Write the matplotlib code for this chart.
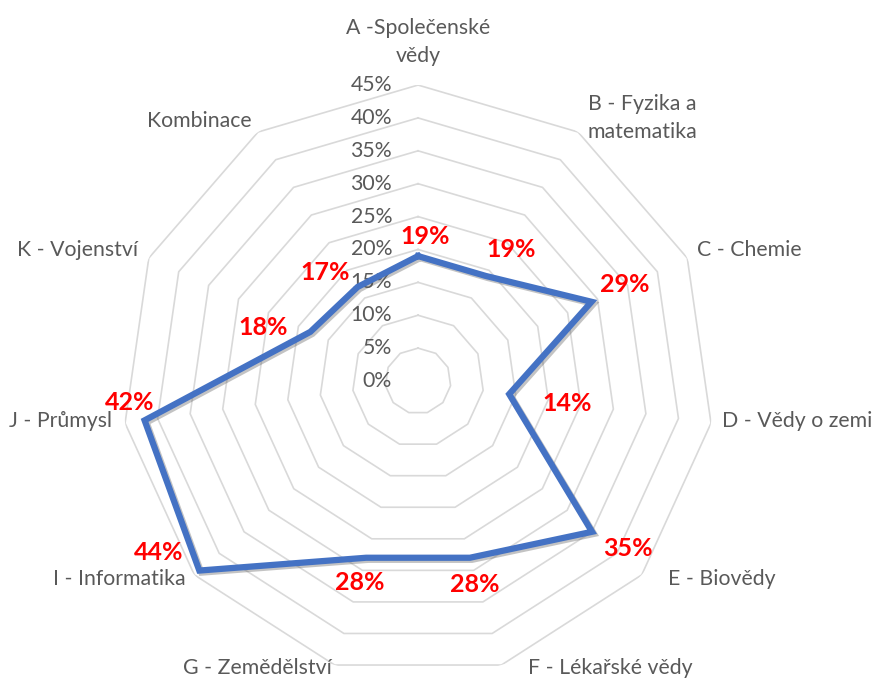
import numpy as np
import matplotlib.pyplot as plt
import matplotlib.patheffects as pe

plt.rcParams['font.family'] = ['Lato', 'DejaVu Sans']

categories = ['A -Společenské\nvědy', 'B - Fyzika a\nmatematika', 'C - Chemie',
              'D - Vědy o zemi', 'E - Biovědy', 'F - Lékařské vědy',
              'G - Zemědělství', 'I - Informatika', 'J - Průmysl',
              'K - Vojenství', 'Kombinace']
values = [19, 19, 29, 14, 35, 28, 28, 44, 42, 18, 17]
ticks = [0, 5, 10, 15, 20, 25, 30, 35, 40, 45]

# label placement (pixel offsets from outer ring vertex / data point)
cat_offsets = [(0, 43, 'center'), (64, 14, 'center'), (10, 8, 'left'),
               (11, 2, 'left'), (26, -4, 'left'), (27, -3, 'left'),
               (-3, -3, 'right'), (-9, -4, 'right'), (-13, 2, 'right'),
               (-11, 8, 'right'), (-6, 11, 'right')]
val_offsets = [(7, 20), (26, 26), (33, 17), (58, -9), (36, -17), (5, -27),
               (-6, -25), (-41, 18), (-15, 18), (-47, 4), (-32, 14)]

n = len(categories)
theta = np.arange(n) * 2 * np.pi / n

fig = plt.figure(figsize=(8.72, 6.82), dpi=100)
ax = fig.add_axes([0.1399, 0.0073, 0.679, 0.868], projection='polar')
ax.set_theta_offset(np.pi / 2)
ax.set_theta_direction(-1)
ax.set_ylim(0, 45)
ax.grid(False)
ax.spines['polar'].set_visible(False)
ax.set_xticks([])
ax.set_yticks([])
ax.patch.set_alpha(0)

# polygon gridlines
ring_t = np.append(theta, theta[0])
for t in ticks[1:]:
    ax.plot(ring_t, [t] * (n + 1), color='#D9D9D9', lw=1.2, zorder=1)

# radial tick labels
for t in ticks:
    ax.annotate(f'{t}%', xy=(0, t), xytext=(-26, 0), textcoords='offset pixels',
                ha='right', va='center', fontsize=15.3, color='#595959')

# data line
vals = values + values[:1]
ax.plot(ring_t, vals, color='#4472C4', lw=4.5, solid_joinstyle='miter', zorder=3,
        path_effects=[pe.SimpleLineShadow(offset=(1.5, -1.5), alpha=0.35, shadow_color='#555555'),
                      pe.Normal()])

# category labels
for th, lab, (dx, dy, ha) in zip(theta, categories, cat_offsets):
    ax.annotate(lab, xy=(th, 45), xytext=(dx, dy), textcoords='offset pixels',
                ha=ha, va='center', fontsize=15.3, color='#595959', linespacing=1.45)

# value labels
for th, v, (dx, dy) in zip(theta, values, val_offsets):
    ax.annotate(f'{v}%', xy=(th, v), xytext=(dx, dy), textcoords='offset pixels',
                ha='center', va='center', fontsize=18, color='red', fontweight='bold',
                zorder=4)

fig.savefig('out.png', dpi=100)
